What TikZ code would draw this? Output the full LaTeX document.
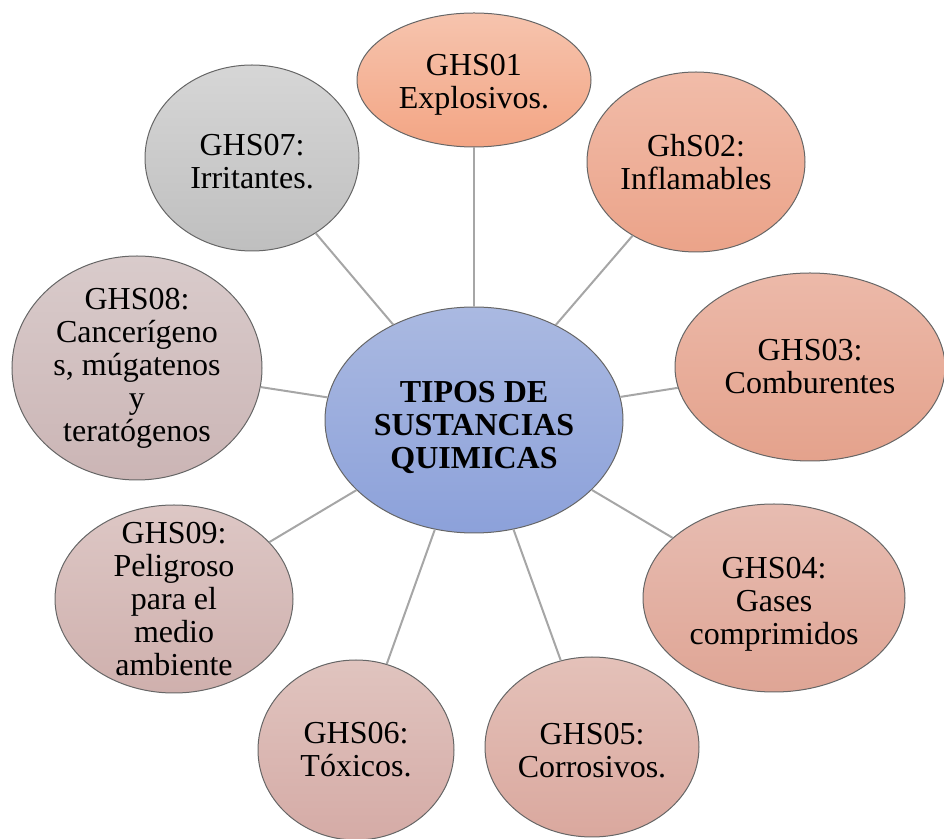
\documentclass[tikz,border=0pt]{standalone}
\usepackage{fontspec}
\setmainfont{Liberation Serif}
\usepackage{tikz}
\usetikzlibrary{shapes.geometric}

\definecolor{cenTop}{HTML}{AAB9E1}
\definecolor{cenBot}{HTML}{8CA1DA}
\definecolor{oneTop}{HTML}{F6C4AE}
\definecolor{oneBot}{HTML}{F3A584}
\definecolor{twoTop}{HTML}{F1BCA9}
\definecolor{twoBot}{HTML}{EBA389}
\definecolor{threeTop}{HTML}{ECB9A9}
\definecolor{threeBot}{HTML}{E4A28C}
\definecolor{fourTop}{HTML}{E7BCB1}
\definecolor{fourBot}{HTML}{DFA595}
\definecolor{fiveTop}{HTML}{E4C1B9}
\definecolor{fiveBot}{HTML}{DAA89E}
\definecolor{sixTop}{HTML}{E0C4BF}
\definecolor{sixBot}{HTML}{D5ABA6}
\definecolor{sevenTop}{HTML}{D6D6D6}
\definecolor{sevenBot}{HTML}{BFBFBF}
\definecolor{eightTop}{HTML}{D9CBCB}
\definecolor{eightBot}{HTML}{CBB5B5}
\definecolor{nineTop}{HTML}{DDC7C5}
\definecolor{nineBot}{HTML}{CFB0AD}

\begin{document}
\begin{tikzpicture}[
    % pixel grid of the reference, y pointing down
    x=0.5pt, y=-0.5pt,
    bubble/.style={
        ellipse, draw=black!60, line width=0.5pt,
        inner sep=0pt, shading=axis
    },
    txt/.style={
        align=center, font=\fontsize{16}{16.5}\selectfont
    },
    link/.style={draw=black!35, line width=1pt}
]
\useasboundingbox (0,0) rectangle (944,839);

% 1. Central bubble
\node[bubble, minimum width=149pt, minimum height=113pt,
      top color=cenTop, bottom color=cenBot] (tipos) at (474,420) {};
\node[txt, font=\fontsize{16}{16.5}\selectfont\bfseries] (tiposText) at (474,428)
    {TIPOS DE\\SUSTANCIAS\\QUIMICAS};

% 2. Hazard classes round it (clockwise from the top)
\node[bubble, minimum width=117pt, minimum height=67pt,
      top color=oneTop, bottom color=oneBot] (g01) at (474,80) {};
\node[bubble, minimum width=109pt, minimum height=90pt,
      top color=twoTop, bottom color=twoBot] (g02) at (696,162) {};
\node[bubble, minimum width=135pt, minimum height=94pt,
      top color=threeTop, bottom color=threeBot] (g03) at (810,367) {};
\node[bubble, minimum width=131pt, minimum height=94pt,
      top color=fourTop, bottom color=fourBot] (g04) at (774,598) {};
\node[bubble, minimum width=107pt, minimum height=90pt,
      top color=fiveTop, bottom color=fiveBot] (g05) at (592,747) {};
\node[bubble, minimum width=98pt, minimum height=90pt,
      top color=sixTop, bottom color=sixBot] (g06) at (356,750) {};
\node[bubble, minimum width=119pt, minimum height=94pt,
      top color=nineTop, bottom color=nineBot] (g09) at (174,599) {};
\node[bubble, minimum width=125pt, minimum height=112pt,
      top color=eightTop, bottom color=eightBot] (g08) at (137,368) {};
\node[bubble, minimum width=107pt, minimum height=93pt,
      top color=sevenTop, bottom color=sevenBot] (g07) at (252,158) {};

% 3. Texts (set apart, the ellipses would grow round them)
\node[txt] (g01Text) at (474,85) {GHS01\\Explosivos.};
\node[txt] (g02Text) at (g02) {GhS02:\\Inflamables};
\node[txt] (g03Text) at (g03) {GHS03:\\Comburentes};
\node[txt] (g04Text) at (774,604) {GHS04:\\Gases\\comprimidos};
\node[txt] (g05Text) at (592,751) {GHS05:\\Corrosivos.};
\node[txt] (g06Text) at (g06) {GHS06:\\Tóxicos.};
\node[txt] (g09Text) at (g09) {GHS09:\\Peligroso\\para el\\medio\\ambiente};
\node[txt] (g08Text) at (g08) {GHS08:\\Cancerígeno\\s, múgatenos\\y\\teratógenos};
\node[txt] (g07Text) at (252,162) {GHS07:\\Irritantes.};

% 4. Spokes
\foreach \n in {g01,g02,g03,g04,g05,g06,g09,g08,g07}
    \draw[link] (tipos) -- (\n);

\end{tikzpicture}
\end{document}
